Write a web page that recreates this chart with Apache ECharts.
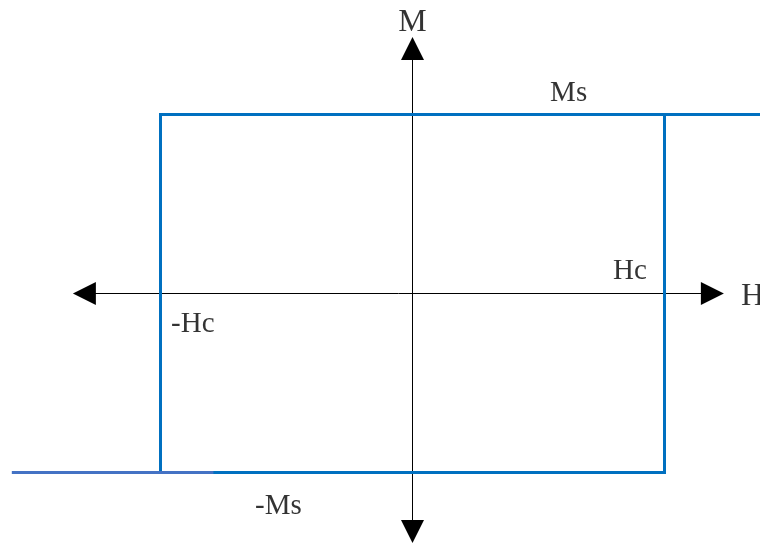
<!DOCTYPE html>
<html>
<head>
<meta charset="utf-8">
<title>M–H hysteresis loop</title>
<script src="https://cdn.jsdelivr.net/npm/echarts@6/dist/echarts.min.js"></script>
<style>
  html, body { margin: 0; padding: 0; background: #ffffff; }
  #chart { width: 760px; height: 544px; }
</style>
</head>
<body>
<div id="chart"></div>
<script>
// Square hysteresis loop, in units of coercive field (H) and saturation magnetisation (M)
const coercivity = 1;          // Hc
const saturation = 1;          // Ms

// Main loop traced as one path: upper branch in from the right, down the -Hc edge,
// along -Ms, then up the +Hc edge
const loopPath = [[1.38, 1], [-1, 1], [-1, -1], [1, -1], [1, 1]];
// Lower branch coming in from the left
const lowerTail = [[-1.59, -1], [-0.79, -1]];

// Axis ends (arrowhead centres)
const hAxisEnds = [-1.302, 1.19];
const mAxisEnds = [-1.33, 1.369];

// Annotation texts
const axisNames = ['H', 'M'];
const levelNames = ['Ms', '-Ms', 'Hc', '-Hc'];

// ---- layout ----
const W = 760, H = 544;
const ORIGIN_X = 412.5, ORIGIN_Y = 293.5;   // pixel position of H = 0, M = 0
const UNIT_X = 252, UNIT_Y = 179;           // pixels per Hc, per Ms

const FONT = '"Liberation Serif", "Times New Roman", serif';
const BLUE = '#0070C0';
const BLUE_TAIL = '#4472C4';
const ARROW = 23;

// where each text sits (data units), left-aligned unless noted
const textSpots = {
  'M':   { at: [0, 1.515], align: 'center', size: 32 },
  'H':   { at: [1.304, -0.018], align: 'left', size: 32 },
  'Ms':  { at: [0.546, 1.12], align: 'left', size: 29 },
  '-Ms': { at: [-0.625, -1.192], align: 'left', size: 29 },
  'Hc':  { at: [0.796, 0.126], align: 'left', size: 29 },
  '-Hc': { at: [-0.958, -0.17], align: 'left', size: 29 }
};

function textSeries(names) {
  return names.map(function (n) {
    const s = textSpots[n];
    return {
      type: 'scatter',
      silent: true,
      symbolSize: 0,
      data: [{ name: n, value: s.at }],
      label: {
        show: true,
        position: [0, 0],
        formatter: '{b}',
        align: s.align,
        verticalAlign: 'middle',
        fontFamily: FONT,
        fontSize: s.size,
        color: '#000000'
      },
      z: 5
    };
  });
}

function arrowAxis(points, rotations) {
  return {
    type: 'line',
    silent: true,
    showSymbol: true,
    lineStyle: { color: '#000000', width: 1 },
    itemStyle: { color: '#000000' },
    data: points.map(function (p, i) {
      return { value: p, symbol: 'triangle', symbolSize: [ARROW, ARROW], symbolRotate: rotations[i] };
    }),
    z: 1
  };
}

const chart = echarts.init(document.getElementById('chart'), null, { renderer: 'canvas' });

chart.setOption({
  animation: false,
  backgroundColor: '#ffffff',
  grid: { left: 0, right: 0, top: 0, bottom: 0 },
  xAxis: {
    type: 'value',
    min: -ORIGIN_X / UNIT_X,
    max: (W - ORIGIN_X) / UNIT_X,
    show: false
  },
  yAxis: {
    type: 'value',
    min: -(H - ORIGIN_Y) / UNIT_Y,
    max: ORIGIN_Y / UNIT_Y,
    show: false
  },
  series: [
    // H axis: arrow left (+90) and right (-90)
    arrowAxis([[hAxisEnds[0], 0], [hAxisEnds[1], 0]], [90, -90]),
    // M axis: arrow down (180) and up (0)
    arrowAxis([[0, mAxisEnds[0]], [0, mAxisEnds[1]]], [180, 0]),
    {
      type: 'line',
      silent: true,
      showSymbol: false,
      data: loopPath.map(function (p) { return [p[0] * coercivity, p[1] * saturation]; }),
      lineStyle: { color: BLUE, width: 3, join: 'miter', cap: 'butt' },
      z: 2
    },
    {
      type: 'line',
      silent: true,
      showSymbol: false,
      data: lowerTail.map(function (p) { return [p[0] * coercivity, p[1] * saturation]; }),
      lineStyle: { color: BLUE_TAIL, width: 3, cap: 'butt' },
      z: 3
    }
  ].concat(textSeries(axisNames), textSeries(levelNames))
});
</script>
</body>
</html>
